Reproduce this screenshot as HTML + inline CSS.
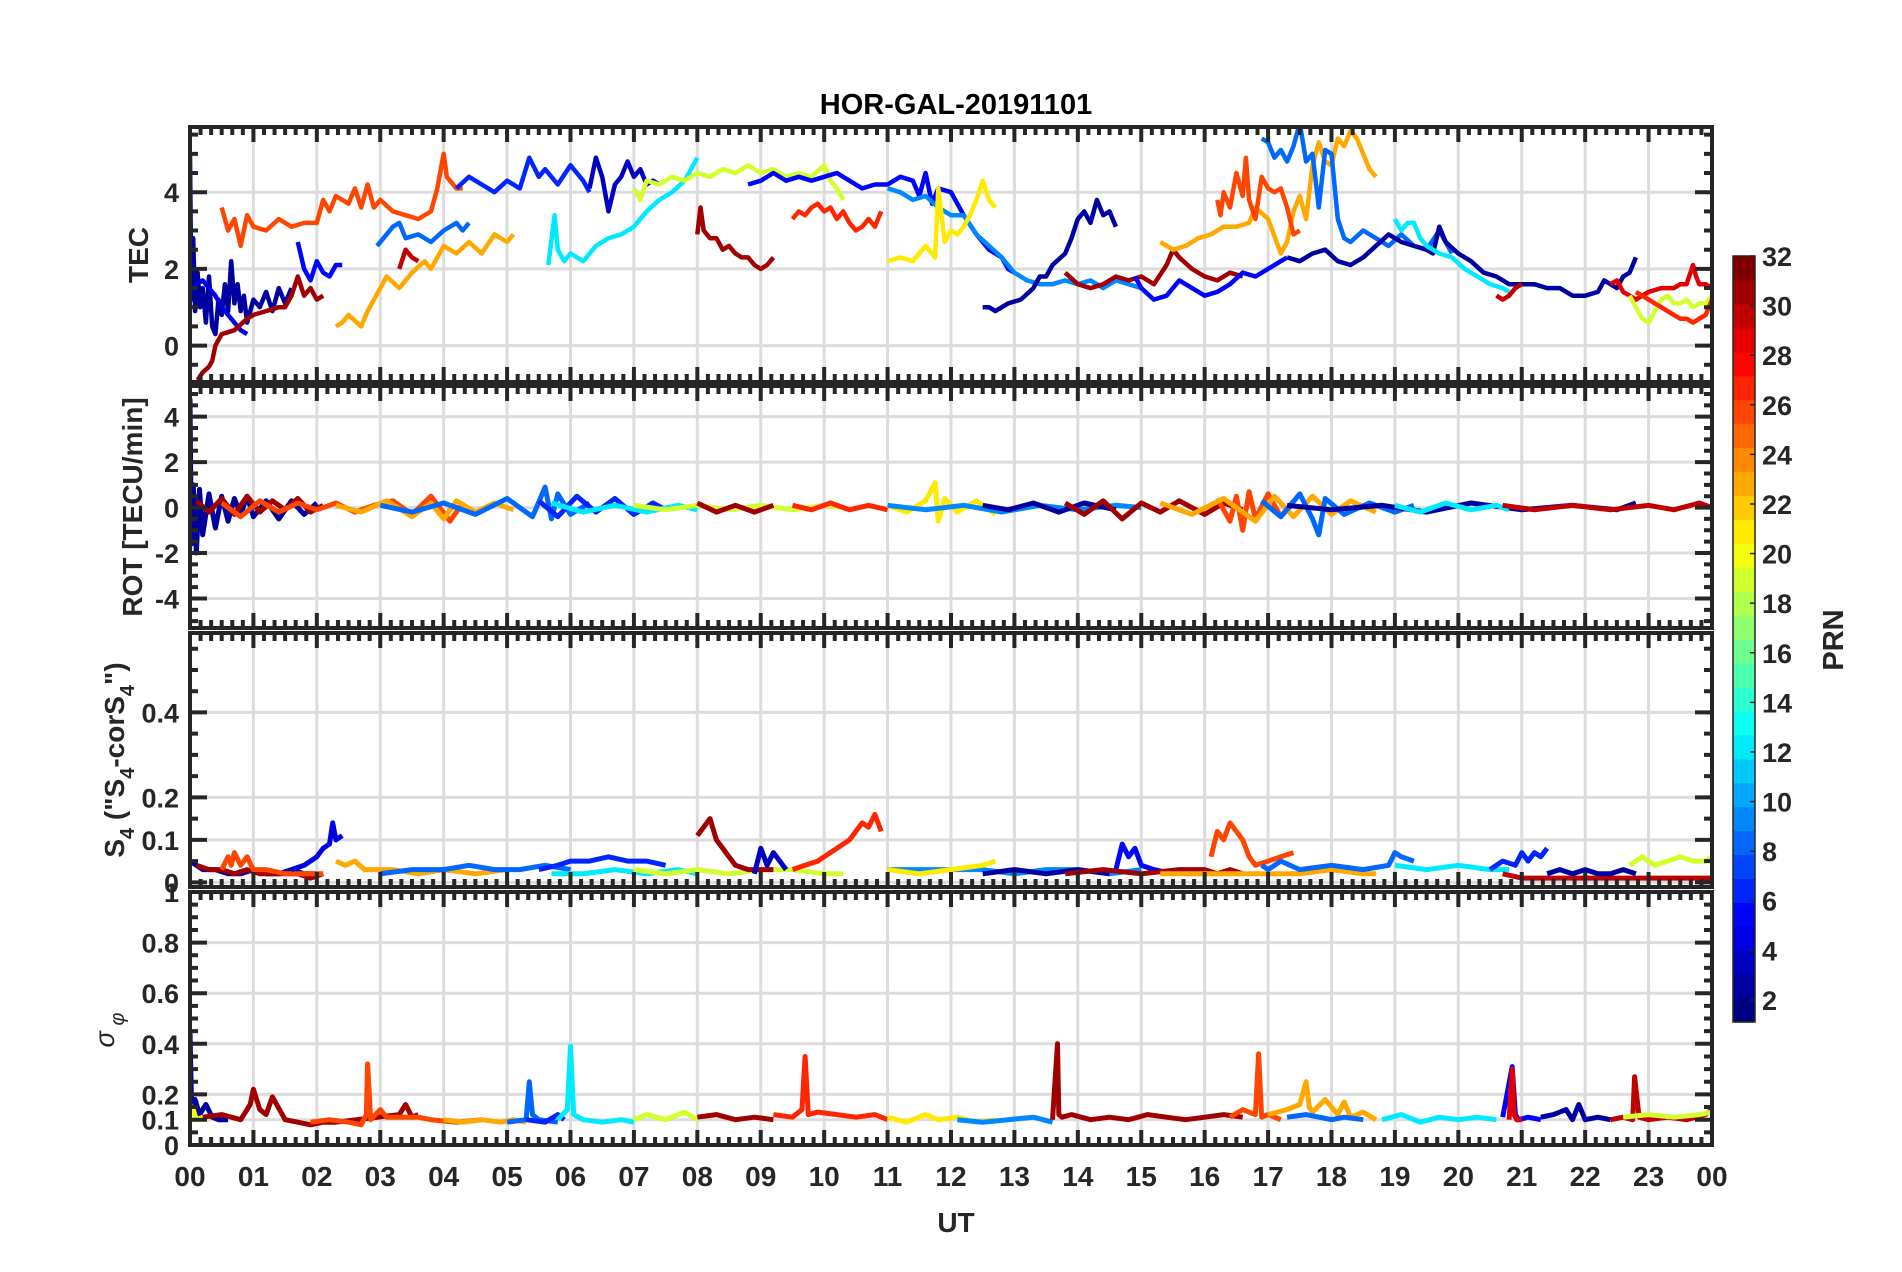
<!DOCTYPE html>
<html><head><meta charset="utf-8"><title>HOR-GAL-20191101</title>
<style>
html,body{margin:0;padding:0;background:#fff;}
svg{display:block;font-family:"Liberation Sans",Arial,sans-serif;font-weight:bold;}
</style></head>
<body>
<svg id="fig" width="1902" height="1272" viewBox="0 0 1902 1272" xmlns="http://www.w3.org/2000/svg">
<rect x="0" y="0" width="1902" height="1272" fill="#fff"/>
<text x="956" y="114" text-anchor="middle" font-size="29" fill="#000">HOR-GAL-20191101</text>
<g id="panels"></g>
<text x="0" y="0" transform="translate(148,255) rotate(-90)" text-anchor="middle" font-size="28" fill="#262626">TEC</text>
<text x="0" y="0" transform="translate(142,507) rotate(-90)" text-anchor="middle" font-size="28" fill="#262626">ROT [TECU/min]</text>
<text x="0" y="0" transform="translate(124,760) rotate(-90)" text-anchor="middle" font-size="28" fill="#262626">S<tspan font-size="20" dy="10">4</tspan><tspan dy="-10"> ("S</tspan><tspan font-size="20" dy="10">4</tspan><tspan dy="-10">-corS</tspan><tspan font-size="20" dy="10">4</tspan><tspan dy="-10">")</tspan></text>
<text x="0" y="0" transform="translate(114,1030) rotate(-90)" text-anchor="middle" font-size="27" font-style="italic" font-weight="normal" fill="#262626">σ<tspan font-size="20" dy="10"> φ</tspan></text>
<text x="956" y="1232" text-anchor="middle" font-size="28" fill="#262626">UT</text>
<g id="cbar"></g>
<text x="0" y="0" transform="translate(1843,640) rotate(-90)" text-anchor="middle" font-size="29" fill="#262626">PRN</text>
</svg>
<script>
// ---------- DATA ----------
const xTickLabels = ["00","01","02","03","04","05","06","07","08","09","10","11","12","13","14","15","16","17","18","19","20","21","22","23","00"];
const cbarTicks = [2,4,6,8,10,12,14,16,18,20,22,24,26,28,30,32];
const tecTicks = [0,2,4];
const rotTicks = [-4,-2,0,2,4];
const s4Ticks = [0,0.1,0.2,0.4];
const sigTicks = [0,0.1,0.2,0.4,0.6,0.8];

// TEC series: prn, hours, values
const tecPrn = [2,4,31,5,26,23,8,30,6,3,12,19,5,31,27,9,21,2,31,5,23,26,8,2,12,30,29,19,27];
const tecH = [
 [0,0.02,0.05,0.08,0.12,0.16,0.2,0.25,0.3,0.35,0.4,0.45,0.5,0.55,0.6,0.65,0.7,0.75,0.8,0.85,0.9,1.0,1.1,1.2,1.3,1.4,1.5,1.6],
 [0,0.1,0.2,0.3,0.4,0.5,0.6,0.7,0.8,0.9],
 [0.12,0.2,0.3,0.35,0.4,0.5,0.6,0.7,0.8,0.9,1.0,1.2,1.4,1.5,1.6,1.7,1.8,1.9,2.0,2.1],
 [1.7,1.8,1.9,2.0,2.1,2.2,2.3,2.4],
 [0.5,0.6,0.7,0.8,0.9,1.0,1.2,1.4,1.6,1.8,2.0,2.1,2.2,2.3,2.5,2.6,2.7,2.8,2.9,3.0,3.2,3.4,3.6,3.8,3.9,4.0,4.05,4.1,4.2,4.3],
 [2.3,2.4,2.5,2.7,2.8,3.0,3.1,3.3,3.5,3.7,3.8,4.0,4.2,4.4,4.6,4.8,5.0,5.1],
 [2.95,3.1,3.2,3.3,3.4,3.6,3.8,4.0,4.2,4.3,4.4],
 [3.3,3.4,3.5,3.6],
 [4.2,4.4,4.6,4.8,5.0,5.2,5.35,5.5,5.6,5.8,6.0,6.2,6.3],
 [6.3,6.4,6.5,6.6,6.7,6.8,6.9,7.0,7.1,7.2,7.3,7.4],
 [5.65,5.75,5.8,5.9,6.0,6.2,6.4,6.6,6.8,7.0,7.2,7.4,7.6,7.8,8.0],
 [7.0,7.1,7.2,7.4,7.6,7.8,8.0,8.2,8.4,8.6,8.8,9.0,9.2,9.4,9.6,9.8,10.0,10.1,10.2,10.3],
 [8.8,9.0,9.2,9.4,9.6,9.8,10.0,10.2,10.4,10.6,10.8,11.0,11.2,11.4,11.5,11.6,11.7,11.8,12.0,12.2,12.4,12.6,12.8,12.9,13.0],
 [8.0,8.05,8.1,8.2,8.3,8.4,8.5,8.6,8.7,8.8,8.9,9.0,9.1,9.2],
 [9.5,9.6,9.7,9.8,9.9,10.0,10.1,10.2,10.3,10.4,10.5,10.6,10.7,10.8,10.9],
 [11.0,11.2,11.4,11.6,11.8,12.0,12.2,12.4,12.6,12.8,13.0,13.2,13.4,13.6,13.8,14.0,14.2,14.4,14.6,14.8,15.0],
 [11.0,11.2,11.4,11.5,11.6,11.7,11.75,11.8,11.9,12.0,12.1,12.2,12.3,12.4,12.5,12.6,12.7],
 [12.5,12.6,12.7,12.9,13.1,13.3,13.4,13.5,13.6,13.8,13.9,14.0,14.1,14.2,14.3,14.4,14.5,14.6],
 [13.8,14.0,14.2,14.4,14.6,14.8,15.0,15.2,15.4,15.5,15.6,15.8,16.0,16.2,16.4,16.6],
 [14.9,15.0,15.2,15.4,15.6,15.8,16.0,16.2,16.4,16.6,16.8,17.0,17.2,17.3],
 [15.3,15.5,15.7,15.9,16.1,16.3,16.5,16.7,16.8,17.0,17.2,17.3,17.4,17.5,17.6,17.7,17.8,17.9,18.0,18.1,18.2,18.3,18.4,18.5,18.6,18.7],
 [16.2,16.25,16.3,16.4,16.5,16.6,16.65,16.7,16.8,16.9,17.0,17.1,17.2,17.3,17.4,17.5],
 [16.9,17.0,17.1,17.2,17.3,17.4,17.5,17.6,17.7,17.8,17.9,18.0,18.1,18.2,18.3,18.5,18.7,18.9,19.1,19.3,19.5,19.7,19.9],
 [17.3,17.5,17.7,17.9,18.1,18.3,18.5,18.7,18.9,19.1,19.3,19.5,19.6,19.7,19.8,20.0,20.2,20.4,20.6,20.8,21.0,21.2,21.4,21.6,21.8,22.0,22.2,22.3,22.4,22.5,22.6,22.7,22.8],
 [19.0,19.1,19.2,19.3,19.4,19.5,19.7,19.9,20.1,20.3,20.5,20.7,20.8],
 [20.6,20.7,20.8,20.9,21.0],
 [22.4,22.5,22.6,22.7,22.8,22.9,23.0,23.2,23.4,23.5,23.6,23.7,23.75,23.8,23.9,24.0],
 [22.7,22.8,22.9,23.0,23.1,23.2,23.3,23.4,23.5,23.6,23.7,23.8,23.9,24.0],
 [22.8,22.9,23.0,23.1,23.2,23.3,23.4,23.5,23.6,23.7,23.8,23.9,24.0]
];
const tecV = [
 [5.0,1.2,2.8,0.9,1.9,1.0,1.5,0.6,1.8,0.5,0.3,1.2,0.8,1.6,0.9,2.2,1.1,1.6,0.9,1.3,0.6,1.2,1.0,1.4,0.9,1.5,1.1,1.5],
 [1.4,1.6,1.7,1.5,1.3,1.0,0.8,0.6,0.4,0.3],
 [-0.9,-0.7,-0.55,-0.4,0.0,0.3,0.35,0.4,0.55,0.7,0.8,0.9,1.0,1.0,1.3,1.8,1.3,1.5,1.2,1.3],
 [2.7,2.0,1.7,2.2,1.9,1.8,2.1,2.1],
 [3.6,3.0,3.3,2.6,3.4,3.1,3.0,3.3,3.1,3.2,3.2,3.8,3.5,3.9,3.7,4.1,3.6,4.2,3.6,3.8,3.5,3.4,3.3,3.5,4.1,5.0,4.4,4.3,4.1,4.1],
 [0.5,0.6,0.8,0.5,0.9,1.5,1.8,1.5,1.9,2.2,2.0,2.6,2.4,2.7,2.4,2.9,2.7,2.9],
 [2.6,2.9,3.1,3.2,2.8,2.9,2.7,3.0,3.2,3.0,3.2],
 [2.0,2.5,2.3,2.2],
 [4.1,4.4,4.2,4.0,4.3,4.1,4.9,4.4,4.6,4.2,4.7,4.3,4.0],
 [4.1,4.9,4.4,3.5,4.2,4.4,4.8,4.4,4.6,4.2,4.3,4.2],
 [2.1,3.4,2.5,2.2,2.4,2.2,2.6,2.8,2.9,3.1,3.5,3.8,4.0,4.3,4.9],
 [4.1,3.8,4.3,4.2,4.4,4.3,4.5,4.4,4.6,4.5,4.7,4.5,4.6,4.4,4.5,4.4,4.7,4.3,4.1,3.8],
 [4.2,4.3,4.5,4.3,4.4,4.3,4.4,4.5,4.3,4.1,4.2,4.2,4.4,4.3,3.9,4.5,3.7,4.1,4.0,3.4,2.9,2.5,2.3,2.0,1.9],
 [2.9,3.6,3.0,2.8,2.8,2.5,2.6,2.4,2.3,2.3,2.1,2.0,2.1,2.3],
 [3.3,3.5,3.4,3.6,3.7,3.5,3.6,3.3,3.5,3.2,3.0,3.1,3.3,3.1,3.5],
 [4.1,4.0,3.8,3.9,3.6,3.4,3.4,2.9,2.6,2.3,1.9,1.7,1.6,1.6,1.7,1.6,1.7,1.5,1.7,1.6,1.5],
 [2.2,2.3,2.2,2.4,2.6,2.4,2.3,4.1,2.7,3.0,2.9,3.1,3.4,3.8,4.3,3.8,3.6],
 [1.0,1.0,0.9,1.1,1.2,1.5,1.8,1.8,2.1,2.4,2.8,3.3,3.5,3.2,3.8,3.4,3.5,3.1],
 [1.9,1.6,1.5,1.6,1.8,1.7,1.8,1.6,2.1,2.5,2.3,2.0,1.8,1.7,1.9,1.8],
 [1.8,1.5,1.2,1.3,1.7,1.5,1.3,1.4,1.6,1.9,1.8,2.0,2.2,2.3],
 [2.7,2.5,2.6,2.8,2.9,3.1,3.1,3.2,3.6,3.3,2.4,2.7,3.5,3.9,3.3,4.7,5.3,4.8,4.7,5.4,5.2,5.6,5.4,5.0,4.6,4.4],
 [3.8,3.4,4.0,3.6,4.5,3.9,4.9,3.8,3.3,4.4,4.1,4.0,4.1,3.6,2.9,3.0],
 [5.4,5.3,4.9,5.1,4.8,5.2,5.8,4.8,5.0,3.6,5.1,5.0,3.3,2.8,2.7,3.0,2.8,2.6,2.9,2.6,2.5,3.0,2.4],
 [2.3,2.2,2.4,2.5,2.2,2.1,2.3,2.6,2.9,2.7,2.6,2.5,2.4,3.1,2.7,2.4,2.2,1.9,1.8,1.6,1.6,1.6,1.5,1.5,1.3,1.3,1.4,1.7,1.6,1.5,1.8,1.9,2.3],
 [3.3,3.0,3.2,3.2,2.8,2.6,2.4,2.3,2.0,1.8,1.6,1.5,1.4],
 [1.3,1.2,1.3,1.5,1.6],
 [1.6,1.7,1.4,1.3,1.2,1.3,1.4,1.5,1.5,1.6,1.6,2.1,1.8,1.6,1.6,1.5],
 [1.3,1.0,0.7,0.6,0.9,1.2,1.3,1.1,1.1,1.2,1.0,1.1,1.1,1.3],
 [1.4,1.3,1.2,1.1,1.0,0.9,0.8,0.7,0.7,0.6,0.7,0.8,1.2]
];

// ROT series
const rotPrn = [2,31,26,23,8,6,12,19,31,27,21,9,2,31,26,23,8,2,12,30];
const rotH = [
 [0,0.02,0.05,0.1,0.15,0.2,0.3,0.4,0.5,0.6,0.7,0.8,0.9,1.0,1.2,1.4,1.6,1.8,2.0],
 [0.1,0.3,0.5,0.7,0.9,1.1,1.3,1.5,1.7,1.9,2.1],
 [0.5,0.8,1.1,1.4,1.7,2.0,2.3,2.6,2.9,3.2,3.5,3.8,4.1,4.3],
 [2.3,2.7,3.1,3.5,3.8,4.0,4.2,4.5,4.8,5.1],
 [3.0,3.5,4.0,4.5,5.0,5.4,5.6,5.7,5.8,6.0,6.3],
 [5.5,5.8,6.1,6.4,6.7,7.0,7.3,7.5],
 [5.7,6.2,6.7,7.2,7.7,8.0],
 [7.0,7.5,8.0,8.5,9.0,9.5,10.0,10.3],
 [8.0,8.3,8.6,8.9,9.2],
 [9.5,9.8,10.1,10.4,10.7,11.0],
 [11.0,11.3,11.6,11.75,11.8,11.9,12.1,12.4,12.7],
 [11.0,11.6,12.2,12.8,13.4,14.0,14.6,15.0],
 [12.5,12.9,13.3,13.7,14.1,14.6],
 [13.8,14.1,14.4,14.7,15.0,15.3,15.6,16.0,16.3,16.6],
 [16.2,16.4,16.5,16.6,16.7,16.8,17.0,17.2,17.4],
 [15.3,15.8,16.3,16.8,17.1,17.4,17.7,18.0,18.3,18.7],
 [16.9,17.2,17.5,17.7,17.8,17.9,18.2,18.6,19.0,19.3],
 [17.3,18.0,18.8,19.5,20.2,21.0,21.8,22.5,22.8],
 [19.0,19.4,19.8,20.2,20.6,20.8],
 [20.7,21.2,21.8,22.4,23.0,23.4,23.8,24.0]
];
const rotV = [
 [4.8,-1.6,1.0,-2.0,0.8,-1.2,0.6,-0.9,0.5,-0.6,0.4,-0.3,0.5,-0.4,0.3,-0.5,0.3,-0.3,0.2],
 [0.3,-0.2,0.4,-0.3,0.5,-0.2,0.3,-0.1,0.4,-0.2,0.1],
 [0.2,-0.4,0.3,-0.2,0.2,-0.1,0.2,-0.2,0.1,0.3,-0.3,0.5,-0.6,0.2],
 [0.1,-0.2,0.3,-0.4,0.2,-0.5,0.3,-0.2,0.2,-0.1],
 [0.1,-0.2,0.2,-0.3,0.4,-0.4,0.9,-0.5,0.6,-0.3,0.2],
 [0.3,-0.4,0.5,-0.2,0.4,-0.3,0.2,-0.1],
 [0.2,-0.2,0.1,-0.2,0.1,-0.1],
 [0.1,-0.1,0.1,-0.1,0.1,-0.1,0.1,0.0],
 [0.2,-0.2,0.1,-0.2,0.1],
 [0.1,-0.1,0.2,-0.1,0.1,-0.1],
 [0.1,-0.2,0.3,1.1,-0.6,0.4,-0.2,0.3,-0.3],
 [0.1,-0.1,0.1,-0.2,0.1,-0.1,0.1,0.0],
 [0.1,-0.1,0.2,-0.2,0.2,-0.1],
 [0.2,-0.3,0.3,-0.5,0.2,-0.2,0.3,-0.3,0.2,-0.1],
 [0.4,-0.6,0.5,-1.0,0.7,-0.5,0.6,-0.4,0.2],
 [0.2,-0.3,0.4,-0.6,0.5,-0.4,0.5,-0.3,0.3,-0.2],
 [0.3,-0.4,0.6,-0.5,-1.2,0.4,-0.3,0.2,-0.2,0.1],
 [0.1,-0.1,0.1,-0.2,0.2,-0.1,0.1,-0.1,0.2],
 [0.1,-0.2,0.2,-0.1,0.1,-0.1],
 [0.1,-0.1,0.1,-0.1,0.1,-0.1,0.2,0.0]
];

// S4 series
const s4Prn = [2,31,26,4,23,8,6,12,19,31,3,27,9,21,5,2,26,31,23,8,12,6,30,19,2];
const s4H = [
 [0,0.2,0.4,0.6,0.8,1.0,1.2,1.4,1.6,1.8,2.0],
 [0.1,0.3,0.5,0.7,0.9,1.1,1.3,1.5,1.7,1.9,2.1],
 [0.5,0.6,0.65,0.7,0.8,0.9,1.0,1.2,1.5,1.8,2.1],
 [1.6,1.8,1.9,2.0,2.1,2.2,2.25,2.3,2.4],
 [2.3,2.45,2.6,2.75,2.9,3.2,3.6,4.0,4.5,5.0],
 [3.0,3.5,4.0,4.4,4.8,5.2,5.6,6.0],
 [5.5,5.8,6.0,6.3,6.6,6.9,7.2,7.5],
 [5.7,6.2,6.7,7.2,7.7,8.0],
 [7.0,7.5,8.0,8.5,9.0,9.5,10.0,10.3],
 [8.0,8.1,8.2,8.3,8.4,8.5,8.6,8.8,9.0,9.2],
 [8.9,9.0,9.1,9.2,9.3,9.4],
 [9.5,9.7,9.9,10.1,10.3,10.4,10.5,10.6,10.7,10.8,10.9],
 [11.0,11.5,12.0,12.5,13.0,13.5,14.0,14.5,15.0],
 [11.0,11.5,12.0,12.5,12.7],
 [14.6,14.7,14.8,14.9,15.0,15.2,15.5],
 [12.5,13.0,13.5,14.0,14.5],
 [16.1,16.2,16.3,16.4,16.5,16.6,16.7,16.8,17.0,17.2,17.4],
 [13.8,14.4,15.0,15.6,16.0,16.2,16.4,16.6],
 [15.3,16.0,16.5,17.0,17.5,18.0,18.5,18.7],
 [16.9,17.0,17.2,17.5,18.0,18.5,18.9,19.0,19.1,19.3],
 [19.0,19.5,20.0,20.5,20.8],
 [20.5,20.7,20.9,21.0,21.1,21.2,21.3,21.4],
 [20.7,21.0,22.0,22.5,23.0,23.5,24.0],
 [22.7,22.9,23.1,23.3,23.5,23.7,23.9,24.0],
 [21.4,21.6,21.8,22.0,22.2,22.4,22.6,22.8]
];
const s4V = [
 [0.05,0.03,0.03,0.02,0.02,0.03,0.02,0.02,0.03,0.02,0.02],
 [0.04,0.03,0.03,0.02,0.03,0.02,0.02,0.02,0.02,0.01,0.02],
 [0.03,0.06,0.04,0.07,0.04,0.06,0.03,0.03,0.02,0.02,0.02],
 [0.03,0.04,0.05,0.06,0.08,0.09,0.14,0.10,0.11],
 [0.05,0.04,0.05,0.03,0.03,0.03,0.02,0.03,0.02,0.03],
 [0.02,0.03,0.03,0.04,0.03,0.03,0.04,0.03],
 [0.03,0.04,0.05,0.05,0.06,0.05,0.05,0.04],
 [0.02,0.02,0.03,0.02,0.03,0.02],
 [0.03,0.02,0.03,0.02,0.03,0.03,0.02,0.02],
 [0.11,0.13,0.15,0.10,0.08,0.06,0.04,0.03,0.03,0.03],
 [0.02,0.08,0.04,0.07,0.05,0.03],
 [0.03,0.04,0.05,0.07,0.09,0.10,0.12,0.14,0.13,0.16,0.12],
 [0.03,0.03,0.03,0.03,0.02,0.03,0.03,0.02,0.03],
 [0.03,0.02,0.03,0.04,0.05],
 [0.03,0.09,0.06,0.08,0.04,0.03,0.02],
 [0.02,0.03,0.02,0.03,0.02],
 [0.06,0.12,0.10,0.14,0.12,0.10,0.06,0.04,0.05,0.06,0.07],
 [0.02,0.03,0.02,0.03,0.03,0.02,0.03,0.02],
 [0.02,0.02,0.02,0.02,0.02,0.03,0.02,0.02],
 [0.04,0.03,0.05,0.03,0.04,0.03,0.04,0.07,0.06,0.05],
 [0.04,0.03,0.04,0.03,0.03],
 [0.03,0.05,0.04,0.07,0.05,0.07,0.06,0.08],
 [0.02,0.01,0.01,0.01,0.01,0.01,0.01],
 [0.04,0.06,0.04,0.05,0.06,0.05,0.05,0.06],
 [0.02,0.03,0.02,0.03,0.02,0.02,0.03,0.02]
];

// sigma-phi series
const sigPrn = [2,20,31,26,23,8,6,12,19,31,27,21,9,31,26,23,8,12,5,2,29,30,19];
const sigH = [
 [0,0.02,0.04,0.08,0.15,0.25,0.35,0.45,0.6],
 [0,0.04,0.1,0.2,0.3],
 [0.2,0.5,0.8,0.95,1.0,1.1,1.2,1.3,1.5,1.7,1.9,2.1,2.3,3.3,3.4,3.5,3.6],
 [1.9,2.2,2.5,2.7,2.78,2.8,2.85,3.0,3.1,3.6,3.8,4.2,4.6],
 [4.0,4.3,4.6,4.9,5.1,5.3],
 [5.0,5.3,5.35,5.4,5.5,5.8],
 [5.3,5.6,5.8,5.9],
 [5.8,5.95,6.0,6.05,6.2,6.5,6.8,7.0],
 [7.0,7.2,7.5,7.8,8.0],
 [8.0,8.3,8.6,8.9,9.2],
 [9.2,9.5,9.65,9.7,9.75,9.9,10.2,10.5,10.8,11.0],
 [11.0,11.3,11.6,11.8,12.1,12.4,12.7],
 [12.1,12.5,12.9,13.3,13.6],
 [13.6,13.68,13.7,13.75,13.9,14.2,14.5,14.8,15.1,15.4,15.7,16.0,16.3,16.6],
 [16.4,16.6,16.8,16.85,16.9,17.0,17.2],
 [17.0,17.3,17.5,17.6,17.65,17.7,17.9,18.1,18.2,18.3,18.5,18.7],
 [17.3,17.6,18.0,18.2,18.5],
 [18.8,19.1,19.4,19.7,20.0,20.3,20.6],
 [20.7,20.85,20.9,20.95,21.1,21.3],
 [21.3,21.5,21.7,21.8,21.9,22.0,22.2,22.4],
 [20.8,20.85,20.88,20.92,21.0],
 [22.4,22.6,22.75,22.78,22.85,23.0,23.3,23.6,23.9,24.0],
 [22.6,23.0,23.4,23.8,24.0]
];
const sigV = [
 [0.45,0.2,0.13,0.18,0.12,0.16,0.11,0.10,0.10],
 [0.12,0.15,0.1,0.11,0.1],
 [0.11,0.12,0.10,0.16,0.22,0.14,0.12,0.19,0.10,0.09,0.08,0.09,0.09,0.12,0.16,0.11,0.12],
 [0.09,0.10,0.09,0.08,0.12,0.32,0.10,0.14,0.11,0.11,0.10,0.09,0.10],
 [0.10,0.09,0.10,0.09,0.10,0.09],
 [0.09,0.10,0.25,0.12,0.10,0.09],
 [0.10,0.09,0.12,0.10],
 [0.10,0.14,0.39,0.12,0.10,0.09,0.10,0.09],
 [0.10,0.12,0.10,0.13,0.10],
 [0.11,0.12,0.10,0.11,0.10],
 [0.12,0.11,0.14,0.35,0.12,0.13,0.12,0.11,0.12,0.10],
 [0.11,0.09,0.12,0.10,0.11,0.09,0.10],
 [0.10,0.09,0.10,0.11,0.09],
 [0.10,0.40,0.12,0.11,0.12,0.10,0.11,0.10,0.12,0.11,0.10,0.11,0.12,0.11],
 [0.11,0.14,0.12,0.36,0.11,0.12,0.10],
 [0.12,0.14,0.16,0.25,0.15,0.13,0.18,0.12,0.17,0.11,0.13,0.10],
 [0.11,0.12,0.10,0.11,0.10],
 [0.10,0.12,0.09,0.11,0.10,0.11,0.10],
 [0.11,0.31,0.12,0.10,0.11,0.10],
 [0.11,0.12,0.14,0.10,0.16,0.10,0.11,0.10],
 [0.10,0.30,0.12,0.10,0.10],
 [0.10,0.11,0.10,0.27,0.11,0.10,0.11,0.10,0.12,0.14],
 [0.11,0.12,0.11,0.12,0.13]
];

// ---------- LAYOUT ----------
const X0 = 190, X1 = 1712;
const panelDefs = [
 {name:"tec", top:127, bot:382, min:-0.95, max:5.7, ticks:tecTicks, minor:0.5, prn:tecPrn, H:tecH, V:tecV, sw:4.5},
 {name:"rot", top:386, bot:628, min:-5.3, max:5.35, ticks:rotTicks, minor:0.5, prn:rotPrn, H:rotH, V:rotV, sw:5},
 {name:"s4", top:633, bot:887, min:-0.011, max:0.587, ticks:s4Ticks, minor:0.05, prn:s4Prn, H:s4H, V:s4V, sw:5},
 {name:"sigma", top:892, bot:1145, min:0, max:1, ticks:sigTicks, minor:0.05, prn:sigPrn, H:sigH, V:sigV, sw:5}
];
const NS = "http://www.w3.org/2000/svg";
function xs(h){ return X0 + h*(X1-X0)/24; }
function ys(p,v){ return p.bot - (v-p.min)*(p.bot-p.top)/(p.max-p.min); }
function jet(prn){
  const t = (prn-1)/31;
  const c = x => Math.round(255*Math.max(0,Math.min(1,x)));
  return "rgb("+c(1.5-Math.abs(4*t-3))+","+c(1.5-Math.abs(4*t-2))+","+c(1.5-Math.abs(4*t-1))+")";
}
function mk(tag, attrs, parent){
  const e = document.createElementNS(NS, tag);
  for (const k in attrs) e.setAttribute(k, attrs[k]);
  parent.appendChild(e);
  return e;
}
const INK = "#262626";
const root = document.getElementById("panels");

panelDefs.forEach((p, pi) => {
  const g = mk("g", {}, root);
  
  
  const cp = mk("clipPath", {id:"clip"+pi}, g);
  mk("rect", {x:X0, y:p.top, width:X1-X0, height:p.bot-p.top}, cp);
  for (let h=1; h<24; h++){
    const gl = mk("line", {x1:xs(h), x2:xs(h), y1:p.top, y2:p.bot, stroke:"#dcdcdc", "stroke-width":3}, g);
    
    
  }
  p.ticks.forEach(v => {
    const gl = mk("line", {x1:X0, x2:X1, y1:ys(p,v), y2:ys(p,v), stroke:"#dcdcdc", "stroke-width":3}, g);
    
    
  });
  const dg = mk("g", {"clip-path":"url(#clip"+pi+")"}, g);
  
  
  p.H.forEach((hs, si) => {
    const vs = p.V[si];
    let d = "";
    for (let i=0;i<hs.length;i++) d += (i?"L":"M") + xs(hs[i]).toFixed(1) + "," + ys(p, vs[i]).toFixed(1);
    const path = mk("path", {d:d, fill:"none", stroke:jet(p.prn[si]), "stroke-width":p.sw, "stroke-linejoin":"round"}, dg);
    
    
  });
  let td = "";
  for (let m=0; m<=24*6; m++){
    const x = xs(m/6), L = (m%6===0)?15:8;
    td += "M"+x+","+p.top+"v"+L+"M"+x+","+p.bot+"v"+(-L);
  }
  const nMin = Math.ceil(p.min/p.minor), nMax = Math.floor(p.max/p.minor);
  for (let k=nMin; k<=nMax; k++){
    const v = k*p.minor, y = ys(p,v);
    const major = p.ticks.some(t => Math.abs(t-v)<1e-9);
    const L = major?17:8;
    td += "M"+X0+","+y+"h"+L+"M"+X1+","+y+"h"+(-L);
  }
  const tk = mk("path", {d:td, stroke:INK, "stroke-width":4, fill:"none"}, g);
  
  
  const fr = mk("rect", {x:X0, y:p.top, width:X1-X0, height:p.bot-p.top, fill:"none", stroke:INK, "stroke-width":4}, g);
  
  
  p.ticks.forEach(v => {
    const t = mk("text", {x:179, y:ys(p,v)+10, "text-anchor":"end", "font-size":27, fill:INK}, g);
    t.textContent = String(v);
    
    
  });
  if (p.name === "sigma"){
    const t = mk("text", {x:179, y:p.top+10, "text-anchor":"end", "font-size":27, fill:INK}, g);
    t.textContent = "1";
    
    
  }
});
xTickLabels.forEach((lab, i) => {
  const t = mk("text", {x:xs(i), y:1186, "text-anchor":"middle", "font-size":28, fill:INK}, root);
  t.textContent = lab;
  
  
});
// colorbar
const cb = document.getElementById("cbar");
const CB_X = 1733, CB_W = 22, CB_TOP = 256, CB_BOT = 1022, CB_MIN = 1.11, CB_MAX = 32;
function cys(v){ return CB_BOT - (v-CB_MIN)*(CB_BOT-CB_TOP)/(CB_MAX-CB_MIN); }
const bandH = (CB_BOT-CB_TOP)/32;
for (let k=1; k<=32; k++){
  const r = mk("rect", {x:CB_X, y:CB_BOT - k*bandH, width:CB_W, height:bandH+0.6, fill:jet(k)}, cb);
  
  
}
const cbf = mk("rect", {x:CB_X, y:CB_TOP, width:CB_W, height:CB_BOT-CB_TOP, fill:"none", stroke:INK, "stroke-width":1.5}, cb);


cbarTicks.forEach(v => {
  const y = cys(v);
  const l = mk("line", {x1:CB_X+CB_W-5, x2:CB_X+CB_W, y1:y, y2:y, stroke:INK, "stroke-width":1.5}, cb);
  
  
  const t = mk("text", {x:1762, y:y+10, "font-size":27, fill:INK}, cb);
  t.textContent = String(v);
  
  
});
</script>
</body></html>
